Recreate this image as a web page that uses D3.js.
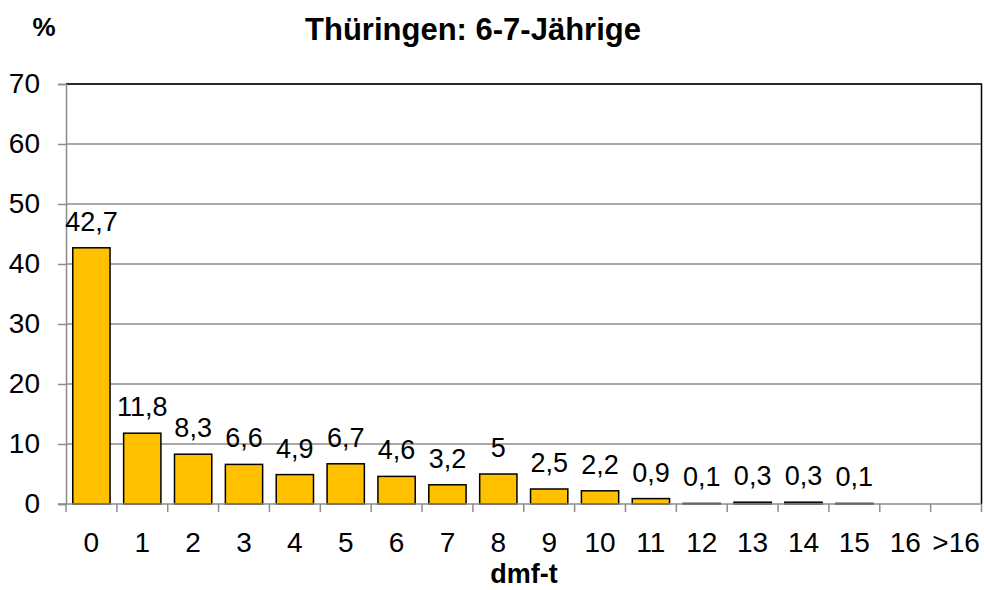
<!DOCTYPE html>
<html><head><meta charset="utf-8">
<script src="https://cdn.jsdelivr.net/npm/d3@7"></script>
<style>body{margin:0;background:#fff}svg{display:block}text{font-family:Arial,"Liberation Sans",sans-serif}</style>
</head><body>
<svg id="c" width="984" height="590"></svg>
<script>
const categories = ["0","1","2","3","4","5","6","7","8","9","10","11","12","13","14","15","16",">16"];
const values = [42.7,11.8,8.3,6.6,4.9,6.7,4.6,3.2,5,2.5,2.2,0.9,0.1,0.3,0.3,0.1,null,null];
const yTicks = [0,10,20,30,40,50,60,70];
const title = "Thüringen: 6-7-Jährige";
const yLabel = "%";
const xLabel = "dmf-t";

const svg = d3.select("#c");
const L = 66, R = 981.5, T = 84, B = 504;
const x = d3.scaleBand().domain(categories).range([L, R]).paddingInner(0.267).paddingOuter(0.133);
const y = d3.scaleLinear().domain([0,70]).range([B, T]);

// gridlines
svg.append("g").selectAll("line").data(yTicks.filter(d=>d>0)).join("line")
  .attr("x1", L).attr("x2", R).attr("y1", d=>y(d)).attr("y2", d=>y(d))
  .attr("stroke", "#8c8c8c").attr("stroke-width", 1.5);
// plot border top/right
svg.append("path").attr("d", `M${L},${T}H${R}V${B}`).attr("fill","none").attr("stroke","#000").attr("stroke-width",1.5);

// bars
const data = categories.map((c,i)=>({c, v: values[i]}));
svg.append("g").selectAll("rect").data(data.filter(d=>d.v!=null)).join("rect")
  .attr("x", d=>x(d.c)).attr("width", x.bandwidth())
  .attr("y", d=>y(d.v)).attr("height", d=>B - y(d.v))
  .attr("fill", "#FFC000").attr("stroke", "#000").attr("stroke-width", 1.5);

// y axis
const yAxis = d3.axisLeft(y).tickValues(yTicks).tickSize(8).tickPadding(18).tickFormat(d3.format("d"));
const gy = svg.append("g").attr("transform", `translate(${L},0)`).call(yAxis);
gy.select(".domain").attr("stroke","#8c8c8c").attr("stroke-width",1.5);
gy.selectAll(".tick line").attr("stroke","#8c8c8c").attr("stroke-width",1.5);
gy.selectAll(".tick text").attr("font-size", 28).attr("fill","#000").attr("font-family","Arial, Liberation Sans, sans-serif");

// x axis with ticks at band boundaries
const gx = svg.append("g").attr("transform", `translate(0,${B})`);
gx.append("line").attr("x1", L-8).attr("x2", R).attr("y1",0).attr("y2",0).attr("stroke","#8c8c8c").attr("stroke-width",1.5);
const bounds = d3.range(categories.length+1).map(i => L + i*(R-L)/categories.length);
gx.selectAll("line.t").data(bounds).join("line").attr("class","t")
  .attr("x1", d=>d).attr("x2", d=>d).attr("y1",0).attr("y2",8)
  .attr("stroke","#8c8c8c").attr("stroke-width",1.5);
gx.selectAll("text").data(categories).join("text")
  .attr("x", d=>x(d)+x.bandwidth()/2).attr("y", 48)
  .attr("text-anchor","middle").attr("font-size",28).attr("fill","#000").text(d=>d);

// data labels
const fmt = v => String(v).replace(".", ",");
svg.append("g").selectAll("text").data(data.filter(d=>d.v!=null)).join("text")
  .attr("x", d=>x(d.c)+x.bandwidth()/2).attr("y", d=>y(d.v)-17)
  .attr("text-anchor","middle").attr("font-size",27).attr("fill","#000").text(d=>fmt(d.v));

// titles
svg.append("text").attr("x", 473).attr("y", 40).attr("text-anchor","middle")
  .attr("font-size",31).attr("font-weight","bold").text(title);
svg.append("text").attr("x", 44).attr("y", 35.5).attr("text-anchor","middle")
  .attr("font-size",26).attr("font-weight","bold").text(yLabel);
svg.append("text").attr("x", 524).attr("y", 583).attr("text-anchor","middle")
  .attr("font-size",27).attr("font-weight","bold").text(xLabel);
</script>
</body></html>
